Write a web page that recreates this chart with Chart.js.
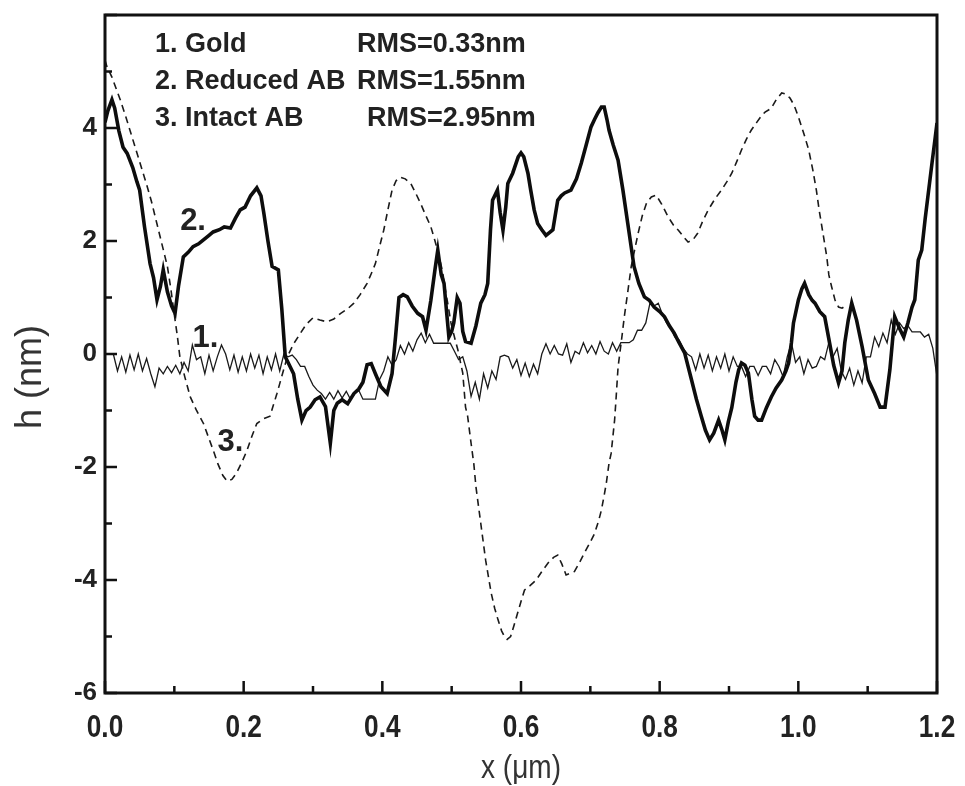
<!DOCTYPE html>
<html>
<head>
<meta charset="utf-8">
<script src="https://cdn.jsdelivr.net/npm/chart.js@4.4.1/dist/chart.umd.min.js"></script>
<style>
  html, body { margin: 0; background: #fff; }
  canvas { display: block; }
</style>
</head>
<body>
<canvas id="profile" width="965" height="786"></canvas>
<script>
// Height profiles, h (nm) against x (um)

// 2. Reduced AB (thick line) : [x, h]
const REDUCED = [
  [0.000,4.10],[0.004,4.30],[0.010,4.50],[0.014,4.35],[0.020,3.95],[0.026,3.66],[0.032,3.55],
  [0.040,3.30],[0.046,3.05],[0.050,2.90],[0.057,2.25],[0.065,1.60],[0.070,1.35],[0.075,0.96],
  [0.080,1.20],[0.084,1.49],[0.090,1.10],[0.096,0.85],[0.101,0.72],[0.106,1.20],[0.113,1.72],
  [0.120,1.80],[0.127,1.90],[0.135,1.95],[0.142,2.02],[0.150,2.10],[0.156,2.16],[0.165,2.20],
  [0.172,2.25],[0.181,2.23],[0.188,2.40],[0.195,2.55],[0.202,2.60],[0.210,2.80],[0.219,2.94],
  [0.225,2.80],[0.229,2.50],[0.235,2.00],[0.241,1.55],[0.250,1.49],[0.255,0.80],[0.260,-0.05],
  [0.266,-0.20],[0.272,-0.35],[0.278,-0.80],[0.284,-1.17],[0.290,-1.00],[0.296,-0.94],[0.303,-0.81],
  [0.310,-0.76],[0.318,-0.93],[0.325,-1.58],[0.330,-1.00],[0.335,-0.87],[0.342,-0.81],[0.350,-0.88],
  [0.359,-0.70],[0.366,-0.62],[0.372,-0.50],[0.378,-0.19],[0.384,-0.17],[0.390,-0.35],[0.398,-0.58],
  [0.407,-0.70],[0.414,-0.35],[0.419,0.30],[0.424,1.00],[0.430,1.05],[0.436,1.01],[0.443,0.85],
  [0.451,0.72],[0.458,0.66],[0.463,0.42],[0.470,0.95],[0.476,1.50],[0.480,1.84],[0.485,1.40],
  [0.489,1.25],[0.493,0.70],[0.496,0.30],[0.500,0.40],[0.503,0.55],[0.508,1.00],[0.512,0.90],
  [0.516,0.40],[0.520,0.22],[0.528,0.19],[0.535,0.50],[0.542,0.90],[0.548,1.05],[0.552,1.25],
  [0.556,2.20],[0.559,2.72],[0.566,2.90],[0.570,2.50],[0.574,2.19],[0.578,2.60],[0.581,3.02],
  [0.588,3.20],[0.596,3.49],[0.600,3.56],[0.604,3.49],[0.610,3.20],[0.614,2.90],[0.619,2.55],
  [0.624,2.31],[0.630,2.20],[0.636,2.10],[0.641,2.15],[0.646,2.20],[0.650,2.50],[0.653,2.72],
  [0.658,2.80],[0.663,2.85],[0.672,2.90],[0.680,3.10],[0.687,3.38],[0.694,3.70],[0.701,4.02],
  [0.706,4.15],[0.711,4.27],[0.716,4.37],[0.720,4.37],[0.724,4.15],[0.727,3.96],[0.733,3.70],
  [0.740,3.43],[0.747,2.90],[0.754,2.31],[0.763,1.55],[0.770,1.25],[0.778,1.01],[0.785,0.95],
  [0.792,0.83],[0.800,0.75],[0.807,0.66],[0.814,0.50],[0.821,0.37],[0.828,0.20],[0.836,0.02],
  [0.846,-0.46],[0.853,-0.80],[0.860,-1.10],[0.866,-1.35],[0.872,-1.52],[0.878,-1.40],[0.885,-1.17],
  [0.890,-1.35],[0.894,-1.52],[0.899,-1.20],[0.904,-0.95],[0.910,-0.50],[0.914,-0.28],[0.918,-0.16],
  [0.923,-0.20],[0.928,-0.34],[0.933,-0.80],[0.937,-1.10],[0.942,-1.17],[0.947,-1.17],[0.954,-0.95],
  [0.961,-0.76],[0.968,-0.60],[0.976,-0.46],[0.982,-0.30],[0.986,-0.16],[0.990,0.20],[0.993,0.55],
  [1.000,0.95],[1.005,1.15],[1.009,1.25],[1.015,1.05],[1.020,0.95],[1.024,0.90],[1.031,0.75],
  [1.038,0.66],[1.045,0.20],[1.051,-0.20],[1.058,-0.51],[1.063,-0.30],[1.067,0.20],[1.072,0.60],
  [1.077,0.90],[1.084,0.60],[1.092,0.13],[1.101,-0.46],[1.110,-0.70],[1.118,-0.94],[1.125,-0.94],
  [1.132,-0.28],[1.139,0.66],[1.146,0.45],[1.152,0.30],[1.158,0.55],[1.164,0.83],[1.168,0.96],
  [1.173,1.66],[1.178,1.84],[1.183,2.40],[1.188,2.90],[1.193,3.40],[1.197,3.79],[1.200,4.09]
];

// 3. Intact AB (dashed line) : [x, h]
const INTACT = [
  [0.000,5.20],[0.003,5.08],[0.010,4.90],[0.022,4.50],[0.030,4.20],[0.040,3.80],[0.050,3.40],
  [0.060,3.00],[0.067,2.70],[0.075,2.30],[0.083,1.90],[0.090,1.55],[0.095,1.15],[0.099,0.78],
  [0.104,0.35],[0.108,-0.05],[0.115,-0.40],[0.123,-0.76],[0.132,-1.00],[0.142,-1.23],[0.150,-1.50],
  [0.156,-1.70],[0.163,-1.95],[0.170,-2.15],[0.176,-2.25],[0.183,-2.22],[0.190,-2.10],[0.198,-1.90],
  [0.205,-1.70],[0.212,-1.45],[0.219,-1.23],[0.228,-1.15],[0.238,-1.10],[0.243,-0.90],[0.248,-0.70],
  [0.256,-0.35],[0.263,-0.05],[0.272,0.18],[0.282,0.37],[0.290,0.52],[0.300,0.64],[0.310,0.60],
  [0.320,0.57],[0.330,0.62],[0.340,0.72],[0.350,0.80],[0.359,0.90],[0.368,1.05],[0.378,1.25],
  [0.384,1.42],[0.390,1.60],[0.396,1.90],[0.402,2.19],[0.408,2.55],[0.414,2.90],[0.420,3.07],
  [0.426,3.13],[0.433,3.10],[0.441,3.02],[0.448,2.85],[0.455,2.67],[0.462,2.47],[0.470,2.25],
  [0.476,2.00],[0.482,1.72],[0.487,1.45],[0.491,1.13],[0.495,0.85],[0.499,0.55],[0.504,0.30],
  [0.509,0.07],[0.516,-0.34],[0.520,-0.94],[0.523,-1.10],[0.528,-1.58],[0.532,-1.95],[0.535,-2.35],
  [0.542,-3.00],[0.549,-3.65],[0.557,-4.23],[0.562,-4.50],[0.567,-4.71],[0.572,-4.90],[0.576,-5.00],
  [0.580,-5.05],[0.585,-5.00],[0.590,-4.80],[0.595,-4.59],[0.600,-4.38],[0.605,-4.18],[0.613,-4.10],
  [0.622,-4.00],[0.630,-3.85],[0.639,-3.70],[0.647,-3.60],[0.653,-3.56],[0.659,-3.72],[0.665,-3.91],
  [0.671,-3.88],[0.677,-3.85],[0.684,-3.70],[0.691,-3.53],[0.699,-3.35],[0.706,-3.18],[0.712,-2.95],
  [0.716,-2.76],[0.720,-2.50],[0.723,-2.29],[0.727,-1.93],[0.730,-1.76],[0.735,-1.17],[0.737,-0.81],
  [0.740,-0.23],[0.745,0.25],[0.749,0.66],[0.754,1.10],[0.759,1.55],[0.764,1.85],[0.769,2.14],
  [0.775,2.45],[0.781,2.67],[0.788,2.78],[0.795,2.81],[0.803,2.65],[0.812,2.43],[0.820,2.28],
  [0.827,2.19],[0.834,2.08],[0.841,1.98],[0.848,2.02],[0.855,2.14],[0.862,2.35],[0.870,2.55],
  [0.880,2.75],[0.889,2.90],[0.897,3.05],[0.904,3.20],[0.911,3.40],[0.918,3.61],[0.925,3.80],
  [0.932,3.96],[0.940,4.10],[0.947,4.22],[0.952,4.28],[0.961,4.35],[0.968,4.50],[0.976,4.62],
  [0.982,4.60],[0.988,4.53],[0.994,4.40],[1.000,4.20],[1.008,3.90],[1.015,3.61],[1.021,3.25],
  [1.026,2.90],[1.030,2.55],[1.034,2.25],[1.038,1.95],[1.041,1.72],[1.044,1.40],[1.048,1.19],
  [1.053,0.95],[1.058,0.83],[1.063,0.81],[1.070,0.87]
];

// 1. Gold (thin line), sampled every GOLD_STEP um from x = 0
const GOLD_STEP = 0.006;
const GOLD = [
   0.00, 0.00, 0.00,-0.30,-0.05,-0.32,-0.02,-0.28, 0.00,-0.30,-0.08,-0.35,-0.58,-0.25,-0.35,-0.22,
  -0.33,-0.20,-0.35,-0.15,-0.30, 0.16,-0.10,-0.05,-0.35,-0.02,-0.30,-0.05, 0.16, 0.00,-0.28,-0.02,
  -0.32,-0.05,-0.30, 0.00,-0.25,-0.02,-0.35,-0.05,-0.28, 0.00,-0.30, 0.00,-0.05,-0.02,-0.10,-0.22,
  -0.22,-0.40,-0.55,-0.64,-0.70,-0.80,-0.68,-0.80,-0.65,-0.78,-0.66,-0.80,-0.70,-0.64,-0.80,-0.80,
  -0.80,-0.80,-0.45,-0.30,-0.05,-0.20,-0.10, 0.15, 0.00, 0.20, 0.05, 0.25, 0.37, 0.20, 0.35, 0.19,
   0.19, 0.19, 0.19, 0.19, 0.05,-0.10,-0.05,-0.30,-0.75,-0.50,-0.80,-0.35,-0.60,-0.30,-0.45,-0.05,
  -0.02,-0.05,-0.25,-0.10,-0.38,-0.16,-0.40,-0.18,-0.35, 0.00, 0.18, 0.00, 0.15, 0.00,-0.02, 0.18,
  -0.15, 0.05, 0.00, 0.20, 0.02, 0.15, 0.00, 0.22, 0.05, 0.00, 0.20, 0.05, 0.20, 0.20, 0.20, 0.25,
   0.42, 0.42, 0.55, 0.90, 0.85, 0.90, 0.70, 0.55, 0.45, 0.30, 0.25, 0.10, 0.00,-0.05,-0.28, 0.00,
  -0.25,-0.02,-0.30,-0.05,-0.25, 0.00,-0.30,-0.05,-0.22,-0.22,-0.40,-0.22,-0.22,-0.38,-0.22,-0.22,
  -0.35,-0.10,-0.22,-0.40,-0.05, 0.20,-0.15,-0.05,-0.35,-0.10,-0.25,-0.22,-0.05,-0.10, 0.20,-0.05,
   0.10,-0.30,-0.45,-0.25,-0.55,-0.30,-0.51,-0.05,-0.05, 0.30, 0.13, 0.37, 0.20, 0.60, 0.35, 0.55,
   0.45, 0.50, 0.39, 0.39, 0.39, 0.30, 0.35, 0.10,-0.40
];

const X_TICKS = [0, 0.1, 0.2, 0.3, 0.4, 0.5, 0.6, 0.7, 0.8, 0.9, 1.0, 1.1, 1.2];
const Y_TICKS = [-6, -5, -4, -3, -2, -1, 0, 1, 2, 3, 4, 5, 6];
const Y_LABELS = [-6, -4, -2, 0, 2, 4];

const LEGEND_ROWS = [
  ['1. Gold', 'RMS=0.33nm'],
  ['2. Reduced AB', 'RMS=1.55nm'],
  ['3. Intact AB', 'RMS=2.95nm'],
];
// curve tags, placed in data units
const TAGS = [
  { text: '2.', x: 0.127, y: 2.34 },
  { text: '1.', x: 0.145, y: 0.28 },
  { text: '3.', x: 0.181, y: -1.56 },
];

const SANS = "'Liberation Sans', Arial, sans-serif";

const toPoints = arr => arr.map( p => ( { x: p[0], y: p[1] } ) );
const goldPoints = GOLD.map( ( h, i ) => ( { x: +( i * GOLD_STEP ).toFixed( 3 ), y: h } ) );

// condensed text: the source uses a narrow face, squeeze Liberation Sans instead
function narrowText( ctx, text, cx, cy, squeeze ) {
  ctx.save();
  ctx.translate( cx, cy );
  ctx.scale( squeeze, 1 );
  ctx.fillText( text, 0, 0 );
  ctx.restore();
}

// frame, inward ticks, tick labels and free text
const decorations = {
  id: 'decorations',
  afterDatasetsDraw( chart ) {
    const { ctx, chartArea: a, scales: { x, y } } = chart;
    ctx.save();
    ctx.strokeStyle = '#111';
    ctx.lineWidth = 3;
    ctx.strokeRect( a.left, a.top, a.right - a.left, a.bottom - a.top );

    ctx.lineWidth = 2.5;
    ctx.beginPath();
    X_TICKS.forEach( ( v, i ) => {
      const px = x.getPixelForValue( v );
      const len = i % 2 === 0 ? 12 : 7;
      ctx.moveTo( px, a.bottom );
      ctx.lineTo( px, a.bottom - len );
    } );
    Y_TICKS.forEach( v => {
      const py = y.getPixelForValue( v );
      const len = v % 2 === 0 ? 12 : 7;
      ctx.moveTo( a.left, py );
      ctx.lineTo( a.left + len, py );
    } );
    ctx.stroke();

    ctx.fillStyle = '#222';
    ctx.textBaseline = 'middle';

    // tick labels
    ctx.textAlign = 'right';
    ctx.font = 'bold 26px ' + SANS;
    Y_LABELS.forEach( v => ctx.fillText( String( v ), a.left - 8, y.getPixelForValue( v ) ) );
    ctx.textAlign = 'center';
    ctx.font = 'bold 32px ' + SANS;
    X_TICKS.forEach( ( v, i ) => {
      if ( i % 2 === 0 ) narrowText( ctx, v.toFixed( 1 ), x.getPixelForValue( v ), a.bottom + 35, 0.82 );
    } );

    // legend block
    ctx.textAlign = 'left';
    ctx.font = 'bold 27px ' + SANS;
    LEGEND_ROWS.forEach( ( row, i ) => {
      const ty = a.top + 30 + i * 37;
      ctx.fillText( row[0], a.left + 50, ty );
      ctx.fillText( row[1], a.left + 252 + ( i === 2 ? 10 : 0 ), ty );
    } );

    ctx.font = 'bold 31px ' + SANS;
    ctx.textAlign = 'center';
    TAGS.forEach( t => {
      ctx.fillText( t.text, x.getPixelForValue( t.x ), y.getPixelForValue( t.y ) );
    } );

    // axis titles
    ctx.fillStyle = '#333';
    ctx.font = '33px ' + SANS;
    narrowText( ctx, 'x (\u03bcm)', ( a.left + a.right ) / 2, a.bottom + 76, 0.85 );
    ctx.translate( 31, a.top + ( a.bottom - a.top ) / 2 + 23 );
    ctx.rotate( -Math.PI / 2 );
    ctx.font = '36px ' + SANS;
    ctx.fillText( 'h (nm)', 0, 0 );
    ctx.restore();
  },
};

new Chart( document.getElementById( 'profile' ), {
  type: 'scatter',
  data: {
    datasets: [
      {
        label: 'Reduced AB',
        data: toPoints( REDUCED ),
        showLine: true,
        borderColor: '#0d0d0d',
        borderWidth: 3.6,
        pointRadius: 0,
        tension: 0,
        order: 0,
      },
      {
        label: 'Gold',
        data: goldPoints,
        showLine: true,
        borderColor: '#1a1a1a',
        borderWidth: 1.3,
        pointRadius: 0,
        tension: 0,
        order: 1,
      },
      {
        label: 'Intact AB',
        data: toPoints( INTACT ),
        showLine: true,
        borderColor: '#1a1a1a',
        borderWidth: 1.6,
        borderDash: [ 7, 5 ],
        pointRadius: 0,
        tension: 0,
        order: 2,
      },
    ],
  },
  options: {
    responsive: false,
    animation: false,
    devicePixelRatio: 1,
    layout: { padding: { top: 15, right: 28, left: 0, bottom: 0 } },
    plugins: {
      legend: { display: false },
      tooltip: { enabled: false },
    },
    scales: {
      x: {
        type: 'linear',
        min: 0,
        max: 1.2,
        grid: { display: false },
        border: { display: false },
        ticks: { display: false },
        afterFit: s => { s.height = 93; },
      },
      y: {
        min: -6,
        max: 6,
        grid: { display: false },
        border: { display: false },
        ticks: { display: false },
        afterFit: s => { s.width = 105; },
      },
    },
  },
  plugins: [ decorations ],
} );
</script>
</body>
</html>
